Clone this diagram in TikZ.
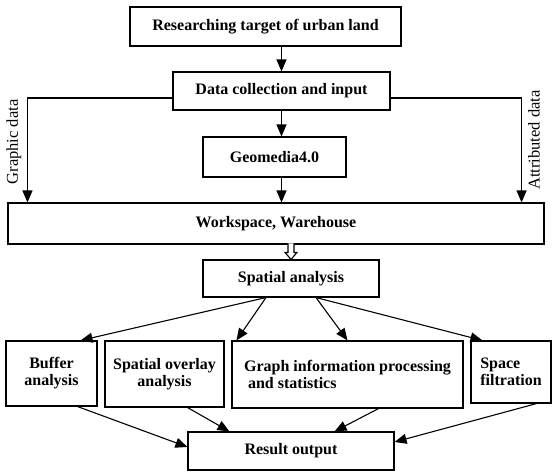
\documentclass[tikz,border=0pt]{standalone}
\usepackage{fontspec}
\setmainfont{Liberation Serif}
\usetikzlibrary{arrows.meta,calc}

\begin{document}
\begin{tikzpicture}[x=1pt,y=-1pt,>={Triangle[length=12pt,width=10pt]},line width=1.1pt,
  box/.style={draw,inner sep=2pt,font=\fontsize{16}{17}\selectfont\bfseries},
  side/.style={font=\fontsize{16.5}{18}\selectfont,rotate=90}]
\useasboundingbox (0,0) rectangle (556,474);
% boxes
\node[box,minimum width=271,minimum height=39] (target) at (265.5,26.5) {Researching target of urban land};
\node[box,minimum width=217,minimum height=38] (collect) at (281.5,91) {Data collection and input};
\node[box,minimum width=143,minimum height=40] (geo) at (274.5,157) {Geomedia4.0};
\node[box,minimum width=536,minimum height=41] (work) at (276,223.5) {Workspace, Warehouse};
\node[box,minimum width=176,minimum height=37] (spatial) at (291,278.5) {Spatial analysis};
\node[box,minimum width=91,minimum height=65,align=center] (buffer) at (51.5,373.5) {Buffer\\analysis};
\node[box,minimum width=119,minimum height=66,align=center] (overlay) at (164.5,374) {Spatial overlay\\analysis};
\node[box,minimum width=231,minimum height=67,align=left] (graph) at (347.5,374.5) {Graph information processing\\\ and statistics};
\node[box,minimum width=80,minimum height=62,align=left] (space) at (511,372) {Space\\filtration};
\node[box,minimum width=206,minimum height=38] (result) at (291,451) {Result output};
% side labels
\node[side] (glab) at (14,142) {Graphic data};
\node[side] (alab) at (534,140) {Attributed data};
% main flow
\draw[->] (target.south -| collect.north) -- (collect.north);
\draw[->] (collect.south) -- (geo.north -| collect.south);
\draw[->] (geo.south -| collect.south) -- (work.north -| collect.south);
\draw[->] ([yshift=-7pt]collect.west) -| ([xshift=20pt]work.north west);
\draw[->] ([yshift=-7pt]collect.east) -| ([xshift=-23pt]work.north east);
\draw[fill=white] ($(spatial.north)+(-3,-16)$) -- ++(0,9) -- ++(-3,0) -- (spatial.north)
  -- ++(6,-7) -- ++(-3,0) -- ++(0,-9);
% analysis branches
\draw[->] ([xshift=-25pt]spatial.south) -- ([xshift=-17pt]buffer.north east);
\draw[->] ([xshift=-25pt]spatial.south) -- ([xshift=5pt]graph.north west);
\draw[->] ([xshift=25pt]spatial.south) -- (graph.north);
\draw[->] ([xshift=25pt]spatial.south) -- ([xshift=12pt]space.north west);
\draw[->] ([xshift=-20pt]buffer.south east) -- ([yshift=4pt]result.west);
\draw[->] ([xshift=-37pt]overlay.south east) -- ([xshift=42pt]result.north west);
\draw[->] ([xshift=31pt]graph.south) -- ([xshift=-60pt]result.north east);
\draw[->] ([xshift=-15pt]space.south east) -- ([yshift=9pt]result.east);
\end{tikzpicture}
\end{document}
